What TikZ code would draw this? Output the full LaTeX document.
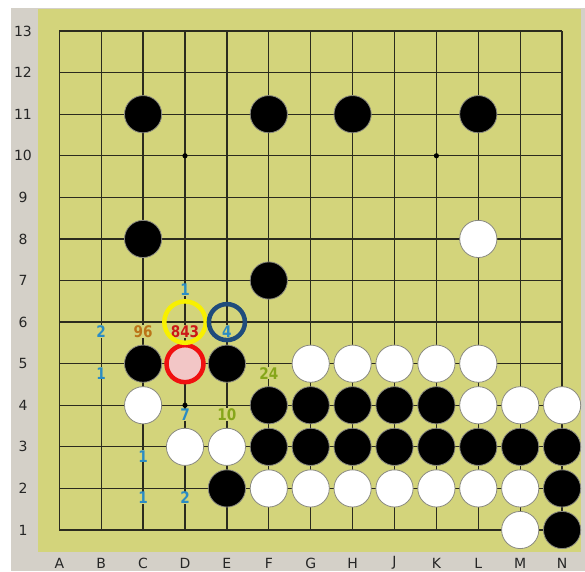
\documentclass[tikz,border=0pt]{standalone}
\usepackage{fontspec}
\setmainfont{DejaVu Sans}
\newfontfamily\movefont[FakeStretch=0.85]{DejaVu Sans}
\usetikzlibrary{positioning}
\definecolor{board}    {HTML}{D3D47B}
\definecolor{frame}    {HTML}{D4D0C8}
\definecolor{gridline} {HTML}{2B2B1E}
\definecolor{rim}      {HTML}{8A8A80}
\definecolor{cyanlbl}  {HTML}{2A8CC4}
\definecolor{orangelbl}{HTML}{BB7418}
\definecolor{greenlbl} {HTML}{86A61A}
\definecolor{redlbl}   {HTML}{CC1818}
\definecolor{hiyellow} {HTML}{F8F000}
\definecolor{hiblue}   {HTML}{1F4C7C}
\definecolor{hired}    {HTML}{F01010}
\definecolor{hipink}   {HTML}{F2C6C6}

\tikzset{
  stone/.style={circle, draw=rim, line width=0.8pt, minimum size=37.2pt, inner sep=0pt},
  blackstone/.style={stone, fill=black},
  whitestone/.style={stone, fill=white},
  ring/.style={circle, line width=4.5pt, inner sep=0pt},
  movelbl/.style={font=\movefont\bfseries\fontsize{16}{17}\selectfont,
    fill=board, inner sep=0.3pt, yshift=-9.5pt},
  coordlbl/.style={font=\fontsize{14}{16}\selectfont, text=black!85, inner sep=1pt},
}

\begin{document}
\begin{tikzpicture}
    \useasboundingbox (0,0) rectangle (585pt,571pt);
    \fill[white] (0,0) rectangle (585pt,571pt);
    \fill[frame] (11pt,0) rectangle (585pt,563pt);
    \fill[board] (38pt,19pt) rectangle (581pt,562pt);

  \begin{scope}[shift={(59.3pt,41pt)}, x=41.9pt, y=41.58pt]
    % board points
    \foreach \c [count=\i from 0] in {A,B,C,D,E,F,G,H,J,K,L,M,N}
      \foreach \r in {1,...,13}
        \coordinate (\c\r) at (\i,\r-1);

    \foreach \i in {0,...,12} {
      \draw[gridline, line width=1.3pt] (\i,0) -- (\i,12);
      \draw[gridline, line width=1.3pt] (0,\i) -- (12,\i);
    }
    \foreach \p in {D10,K10,D4,K4}
      \fill[black] (\p) circle (2.6pt);

    % coordinates
    \foreach \r in {1,...,13}
      \node[coordlbl, xshift=-36.3pt] (row\r) at (A\r) {\r};
    \foreach \c in {A,B,C,D,E,F,G,H,J,K,L,M,N}
      \node[coordlbl, yshift=-33pt] (col\c) at (\c1) {\c};

    % stones
    \foreach \p in {C11,F11,H11,L11,C8,F7,C5,E5,F4,G4,H4,J4,K4,
                    F3,G3,H3,J3,K3,L3,M3,N3,E2,N2,N1}
      \node[blackstone] (stone-\p) at (\p) {};
    \foreach \p in {L8,G5,H5,J5,K5,L5,C4,L4,M4,N4,D3,E3,
                    F2,G2,H2,J2,K2,L2,M2,M1}
      \node[whitestone] (stone-\p) at (\p) {};

    % candidate moves
    \foreach \p/\t/\col in {D7/1/cyanlbl, B6/2/cyanlbl, C6/96/orangelbl,
        D6/843/redlbl, E6/4/cyanlbl, B5/1/cyanlbl, F5/24/greenlbl,
        D4/7/cyanlbl, E4/10/greenlbl, C3/1/cyanlbl, C2/1/cyanlbl,
        D2/2/cyanlbl}
      \node[movelbl, text=\col] (lbl-\p) at (\p) {\t};

    \node[ring, draw=hired, fill=hipink, minimum size=37pt] (lastmove) at (D5) {};
    \node[ring, draw=hiyellow, minimum size=41.4pt] (bestmove) at (D6) {};
    \node[ring, draw=hiblue, minimum size=36pt] (altmove) at (E6) {};
  \end{scope}
\end{tikzpicture}
\end{document}
